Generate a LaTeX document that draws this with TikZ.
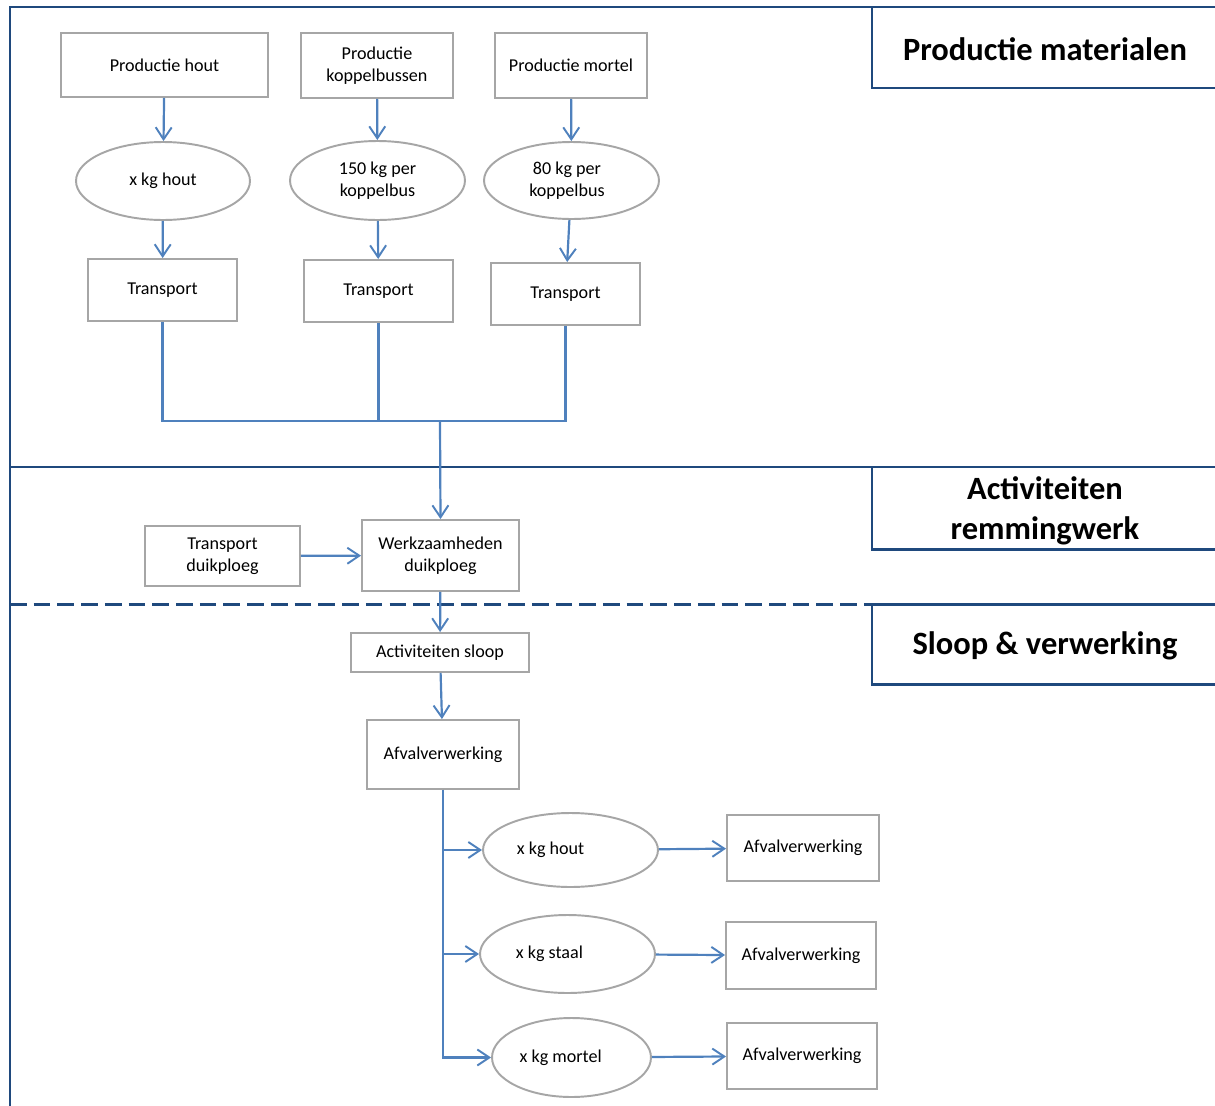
\documentclass[tikz,border=0pt]{standalone}
\usepackage{fontspec}
\setmainfont{Carlito}
\usetikzlibrary{shapes.geometric,arrows.meta}

\definecolor{kaderblauw}{HTML}{1F497D}
\definecolor{pijlblauw}{HTML}{4F81BD}
\definecolor{randgrijs}{HTML}{A6A6A6}

\begin{document}
\begin{tikzpicture}[x=0.02cm, y=-0.02cm,
		% Stijl voor de rechthoekige blokken
		box style/.style={rectangle, draw=randgrijs, line width=1.1pt, fill=white, inner sep=2pt, align=center, font=\fontsize{10.3}{12.5}\selectfont},
		% Stijl voor de ellipsen met hoeveelheden
		ellipse style/.style={ellipse, draw=randgrijs, line width=1.1pt, fill=white, inner sep=0pt, align=center, font=\fontsize{10.3}{12.5}\selectfont},
		% Stijl voor de pijlen
		edge style/.style={line width=1.25pt, color=pijlblauw, -{Straight Barb[length=2.4mm, width=3.2mm, line width=1.1pt]}},
		line style/.style={line width=1.25pt, color=pijlblauw},
		% Stijl voor de kaderlijnen en titels
		frame style/.style={line width=1.7pt, color=kaderblauw},
		title style/.style={align=center, font=\fontsize{18.5}{23}\selectfont\bfseries}
	]
	\useasboundingbox (0,0) rectangle (1215,1106);

	% =================================
	% KADER EN FASEN
	% =================================
	\draw[frame style] (10,1106) -- (10,7) -- (1215,7);
	\draw[frame style] (10,467) -- (1215,467);
	\draw[frame style, dash pattern=on 9.5pt off 4pt] (10,604) -- (872,604);
	\draw[frame style] (872,604) -- (1215,604);

	\draw[frame style] (872,7) -- (872,88) -- (1215,88);
	\draw[frame style] (872,467) -- (872,549) -- (1215,549);
	\draw[frame style] (872,604) -- (872,684) -- (1215,684);

	\node[title style] (tprod) at (1045,49) {Productie materialen};
	\node[title style] (tact) at (1045,511) {Activiteiten\\remmingwerk};
	\node[title style] (tsloop) at (1045,646) {Sloop \& verwerking};

	% =================================
	% PRODUCTIE MATERIALEN
	% =================================
	\node[box style, minimum width=4.14cm, minimum height=1.28cm] (phout) at (164.5,65) {Productie hout};
	\node[box style, minimum width=3.04cm, minimum height=1.30cm] (pkop) at (377,65.5) {Productie\\koppelbussen};
	\node[box style, minimum width=3.04cm, minimum height=1.30cm] (pmort) at (571,65.5) {Productie mortel};

	\node[ellipse style, minimum width=3.48cm, minimum height=1.56cm] (ehout) at (163,181) {x kg hout};
	\node[ellipse style, minimum width=3.50cm, minimum height=1.58cm] (ekop) at (377.5,180.5) {150 kg per\\koppelbus};
	\node[ellipse style, minimum width=3.50cm, minimum height=1.54cm] (emort) at (571.5,180.5) {\hspace*{-0.5em}80 kg per\\\hspace*{-0.5em}koppelbus};

	\node[box style, minimum width=2.98cm, minimum height=1.24cm] (thout) at (162.5,290) {Transport};
	\node[box style, minimum width=2.98cm, minimum height=1.24cm] (tkop) at (378.5,291) {Transport};
	\node[box style, minimum width=2.98cm, minimum height=1.24cm] (tmort) at (565.5,294) {Transport};

	\coordinate (samen) at (440,421);

	% =================================
	% ACTIVITEITEN REMMINGWERK
	% =================================
	\node[box style, minimum width=3.10cm, minimum height=1.20cm] (tduik) at (222.5,556) {Transport\\duikploeg};
	\node[box style, minimum width=3.14cm, minimum height=1.42cm] (wduik) at (440.5,555.5) {Werkzaamheden\\duikploeg};

	% =================================
	% SLOOP & VERWERKING
	% =================================
	\node[box style, minimum width=3.56cm, minimum height=0.78cm] (asloop) at (440,652.5) {Activiteiten sloop};
	\node[box style, minimum width=3.04cm, minimum height=1.38cm] (afval) at (443,754.5) {Afvalverwerking};

	\node[ellipse style, minimum width=3.50cm, minimum height=1.48cm] (rhout) at (570.5,850) {\hspace*{-2.2em}x kg hout};
	\node[ellipse style, minimum width=3.50cm, minimum height=1.56cm] (rstaal) at (567.5,954) {\hspace*{-2em}x kg staal};
	\node[ellipse style, minimum width=3.18cm, minimum height=1.58cm] (rmort) at (571.5,1057.5) {\hspace*{-1.2em}x kg mortel};

	\node[box style, minimum width=3.04cm, minimum height=1.32cm] (ahout) at (803,848) {Afvalverwerking};
	\node[box style, minimum width=3.00cm, minimum height=1.34cm] (astaal) at (801,955.5) {Afvalverwerking};
	\node[box style, minimum width=3.00cm, minimum height=1.32cm] (amort) at (802,1056) {Afvalverwerking};

	% =================================
	% VERBINDINGEN
	% =================================
	\draw[edge style] (phout) -- (ehout);
	\draw[edge style] (pkop) -- (ekop);
	\draw[edge style] (pmort) -- (emort);

	\draw[edge style] (ehout) -- (thout);
	\draw[edge style] (ekop) -- (tkop);
	\draw[edge style] (emort) -- (tmort);

	\draw[line style] (thout.south) |- (samen);
	\draw[line style] (tkop.south) -- (tkop.south |- samen);
	\draw[line style] (tmort.south) |- (samen);
	\draw[edge style] (samen) -- (wduik.north);

	\draw[edge style] (tduik) -- (wduik);
	\draw[edge style] (wduik) -- (asloop);
	\draw[edge style] (asloop) -- (afval);

	\draw[edge style] (afval.south) |- (rhout.west);
	\draw[edge style] (afval.south) |- (rstaal.west);
	\draw[edge style] (afval.south) |- (rmort.west);

	\draw[edge style] (rhout) -- (ahout);
	\draw[edge style] (rstaal) -- (astaal);
	\draw[edge style] (rmort) -- (amort);

\end{tikzpicture}
\end{document}
